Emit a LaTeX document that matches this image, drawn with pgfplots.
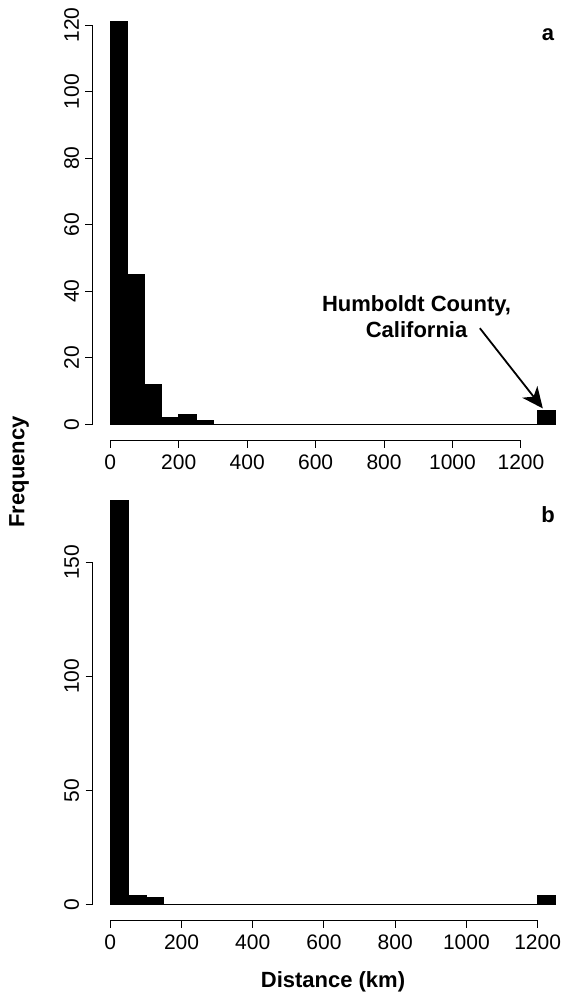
\documentclass[border=0pt]{standalone}
\usepackage{fontspec}
\setmainfont{Liberation Sans}
\usepackage{pgfplots}
\pgfplotsset{compat=1.18}
\usetikzlibrary{arrows.meta}

\pgfplotsset{rstyle/.style={
  scale only axis,
  width=469.5pt,
  anchor=south west,
  axis x line*=bottom,
  axis y line*=left,
  tick align=outside,
  major tick length=7pt,
  tick style={black, line width=1pt},
  /pgf/number format/assume math mode=true,
  /pgf/number format/1000 sep={},
  every tick label/.append style={font=\fontsize{21}{24}\selectfont},
  yticklabel style={rotate=90, anchor=south},
  xticklabel shift=4pt,
  yticklabel shift=3pt,
  xtick={0,200,400,600,800,1000,1200},
  clip=false,
}}

\begin{document}
\begin{tikzpicture}[x=1pt,y=1pt]
% ---------------- panel a ----------------
\begin{axis}[rstyle, at={(92.5pt,-440.5pt)}, height=434.9pt,
  xmin=-52, xmax=1320, ymin=-4.84, ymax=125.84,
  ytick={0,20,40,60,80,100,120},
  x axis line style={black, line width=1pt, shorten <=17.8pt, shorten >=41pt},
  y axis line style={black, line width=1pt, shorten <=16.1pt, shorten >=19.4pt}]
\addplot[ybar interval, fill=black, draw=black, line width=1.5pt] coordinates {
 (0,121) (50,45) (100,12) (150,2) (200,3) (250,1) (300,0) (350,0) (400,0)
 (450,0) (500,0) (550,0) (600,0) (650,0) (700,0) (750,0) (800,0) (850,0)
 (900,0) (950,0) (1000,0) (1050,0) (1100,0) (1150,0) (1200,0) (1250,4) (1300,4)};
\node[align=center, font=\fontsize{22}{26}\selectfont\bfseries] at (axis cs:895,32.3)
  {Humboldt County,\\California};
\draw[line width=1.8pt, -{Stealth[length=21pt, width=19pt, inset=6pt]}]
  (axis cs:1080,28.9) -- (axis cs:1264,4.8);
\end{axis}
% ---------------- panel b ----------------
\begin{axis}[rstyle, at={(92.5pt,-920.5pt)}, height=435.8pt,
  xmin=-50, xmax=1268.4, ymin=-7.08, ymax=184.08,
  ytick={0,50,100,150},
  x axis line style={black, line width=1pt, shorten <=17.8pt, shorten >=24.3pt},
  y axis line style={black, line width=1pt, shorten <=16.1pt, shorten >=77.6pt}]
\addplot[ybar interval, fill=black, draw=black, line width=1.5pt] coordinates {
 (0,177) (50,4) (100,3) (150,0) (200,0) (250,0) (300,0) (350,0) (400,0)
 (450,0) (500,0) (550,0) (600,0) (650,0) (700,0) (750,0) (800,0) (850,0)
 (900,0) (950,0) (1000,0) (1050,0) (1100,0) (1150,0) (1200,4) (1250,4)};
\end{axis}
% ---------------- labels ----------------
\node[font=\fontsize{22}{26}\selectfont\bfseries] at (548,-35) {a};
\node[font=\fontsize{22}{26}\selectfont\bfseries] at (548,-515) {b};
\node[font=\fontsize{22}{26}\selectfont\bfseries, rotate=90] at (19,-472) {Frequency};
\node[font=\fontsize{22}{26}\selectfont\bfseries] at (333,-982) {Distance (km)};
\pgfresetboundingbox
\useasboundingbox (0,0) rectangle (562,-994);
\end{tikzpicture}
\end{document}
